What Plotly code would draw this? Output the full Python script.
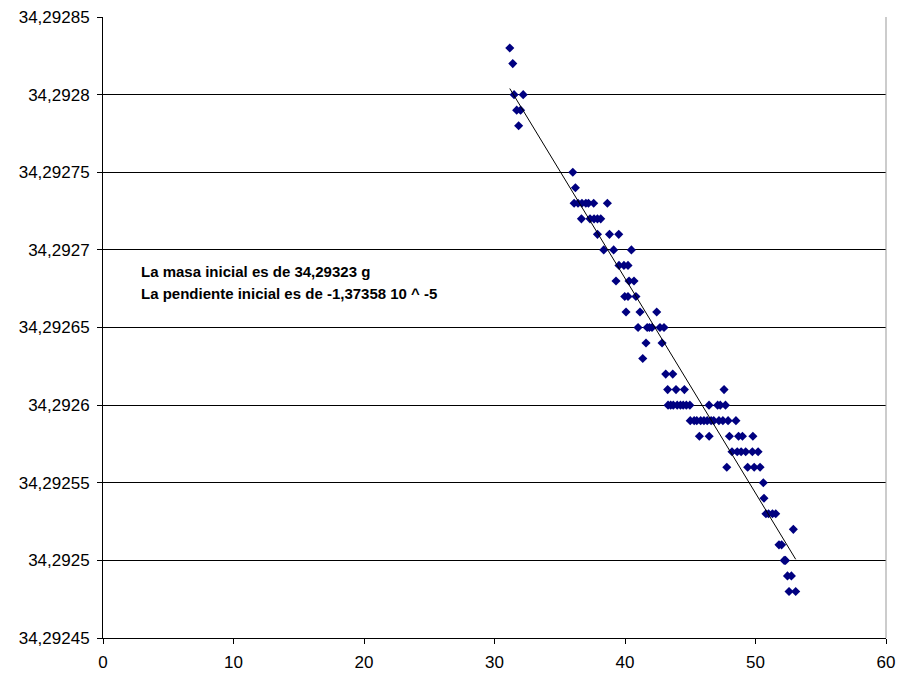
import numpy as np
import plotly.graph_objects as go

# data: time (x) and mass (y)
x_vals = [31.17, 31.4, 31.5, 32.2, 31.7, 32.0, 31.85,
          36.0, 36.2,
          36.1, 36.4, 36.7, 37.0, 37.2, 37.6, 38.65,
          36.66, 37.32, 37.63, 37.89, 38.14,
          37.89, 38.81, 39.52,
          38.37, 39.13, 40.49,
          39.54, 39.92, 40.23,
          39.31, 40.31, 40.69,
          39.98, 40.23, 40.84,
          40.08, 41.15, 42.43,
          41.0, 41.7, 41.87, 42.07, 42.68, 42.99,
          41.61, 42.84,
          41.36,
          43.12, 43.66,
          43.27, 43.91, 44.55, 47.59,
          43.3, 43.5, 43.7, 44.0, 44.25, 44.46, 44.7, 44.97, 46.44, 47.1, 47.3, 47.7,
          45.0, 45.3, 45.5, 45.8, 46.05, 46.3, 46.6, 46.8, 47.2, 47.5, 47.9, 48.5,
          45.7, 46.45, 48.0, 48.7, 49.0, 49.8,
          48.2, 48.6, 48.9, 49.25, 49.76, 50.2,
          47.8, 49.4, 49.9, 50.35,
          50.6,
          50.65,
          50.8, 51.0, 51.3, 51.55,
          52.9,
          51.8, 52.0,
          52.2, 52.3,
          52.45, 52.75,
          52.57, 53.08]
y_vals = [34.29283, 34.29282, 34.29280, 34.29280, 34.29279, 34.29279, 34.29278,
          34.29275, 34.29274,
          34.29273, 34.29273, 34.29273, 34.29273, 34.29273, 34.29273, 34.29273,
          34.29272, 34.29272, 34.29272, 34.29272, 34.29272,
          34.29271, 34.29271, 34.29271,
          34.29270, 34.29270, 34.29270,
          34.29269, 34.29269, 34.29269,
          34.29268, 34.29268, 34.29268,
          34.29267, 34.29267, 34.29267,
          34.29266, 34.29266, 34.29266,
          34.29265, 34.29265, 34.29265, 34.29265, 34.29265, 34.29265,
          34.29264, 34.29264,
          34.29263,
          34.29262, 34.29262,
          34.29261, 34.29261, 34.29261, 34.29261,
          34.29260, 34.29260, 34.29260, 34.29260, 34.29260, 34.29260, 34.29260, 34.29260, 34.29260, 34.29260, 34.29260, 34.29260,
          34.29259, 34.29259, 34.29259, 34.29259, 34.29259, 34.29259, 34.29259, 34.29259, 34.29259, 34.29259, 34.29259, 34.29259,
          34.29258, 34.29258, 34.29258, 34.29258, 34.29258, 34.29258,
          34.29257, 34.29257, 34.29257, 34.29257, 34.29257, 34.29257,
          34.29256, 34.29256, 34.29256, 34.29256,
          34.29255,
          34.29254,
          34.29253, 34.29253, 34.29253, 34.29253,
          34.29252,
          34.29251, 34.29251,
          34.29250, 34.29250,
          34.29249, 34.29249,
          34.29248, 34.29248]

y_tickvals = [34.29245, 34.2925, 34.29255, 34.2926, 34.29265, 34.2927, 34.29275, 34.2928, 34.29285]
y_ticktext = ["34,29245", "34,2925", "34,29255", "34,2926", "34,29265", "34,2927", "34,29275", "34,2928", "34,29285"]
x_tickvals = [0, 10, 20, 30, 40, 50, 60]

note_lines = ["La masa inicial es de 34,29323 g",
              "La pendiente inicial es de -1,37358 10 ^ -5"]

# linear trendline
xa = np.array(x_vals)
ya = np.array(y_vals)
slope, intercept = np.polyfit(xa, ya - 34.2926, 1)
tx = np.array([xa.min(), xa.max()])
ty = slope * tx + intercept + 34.2926

L, R, T, B = 103, 14, 17, 37
PW = 900 - L - R
PH = 675 - T - B

fig = go.Figure()
fig.add_trace(go.Scatter(x=x_vals, y=y_vals, mode="markers",
                         marker=dict(symbol="diamond", size=7, color="#000080"),
                         showlegend=False))
fig.add_trace(go.Scatter(x=tx, y=ty, mode="lines",
                         line=dict(color="black", width=1), showlegend=False))

fig.add_shape(type="line", xref="paper", yref="paper", x0=1, x1=1, y0=0, y1=1,
              line=dict(color="#999999", width=1))

for i, yy in enumerate([271, 293]):
    fig.add_annotation(xref="paper", yref="paper", x=(139 - L) / PW, y=1 - (yy - T) / PH,
                       text="<b>" + note_lines[i] + "</b>", showarrow=False,
                       xanchor="left", yanchor="middle",
                       font=dict(family="Liberation Sans, Arial", size=15, color="black"))

fig.update_layout(
    width=900, height=675,
    margin=dict(l=L, r=R, t=T, b=B),
    paper_bgcolor="white", plot_bgcolor="white",
    font=dict(family="Liberation Sans, Arial", size=17, color="black"),
    xaxis=dict(range=[0, 60], tickvals=x_tickvals, showgrid=False, zeroline=False,
               showline=True, linecolor="black", linewidth=1,
               ticks="outside", ticklen=5, tickcolor="black", tickwidth=1,
               tickfont=dict(size=17), ticklabelstandoff=4, automargin=False),
    yaxis=dict(range=[34.29245, 34.29285], tickvals=y_tickvals, ticktext=y_ticktext,
               showgrid=True, gridcolor="black", gridwidth=1, zeroline=False,
               showline=True, linecolor="black", linewidth=1,
               ticks="outside", ticklen=5, tickcolor="black", tickwidth=1,
               tickfont=dict(size=17), ticklabelstandoff=4, automargin=False),
)

fig.write_html("out.html")
